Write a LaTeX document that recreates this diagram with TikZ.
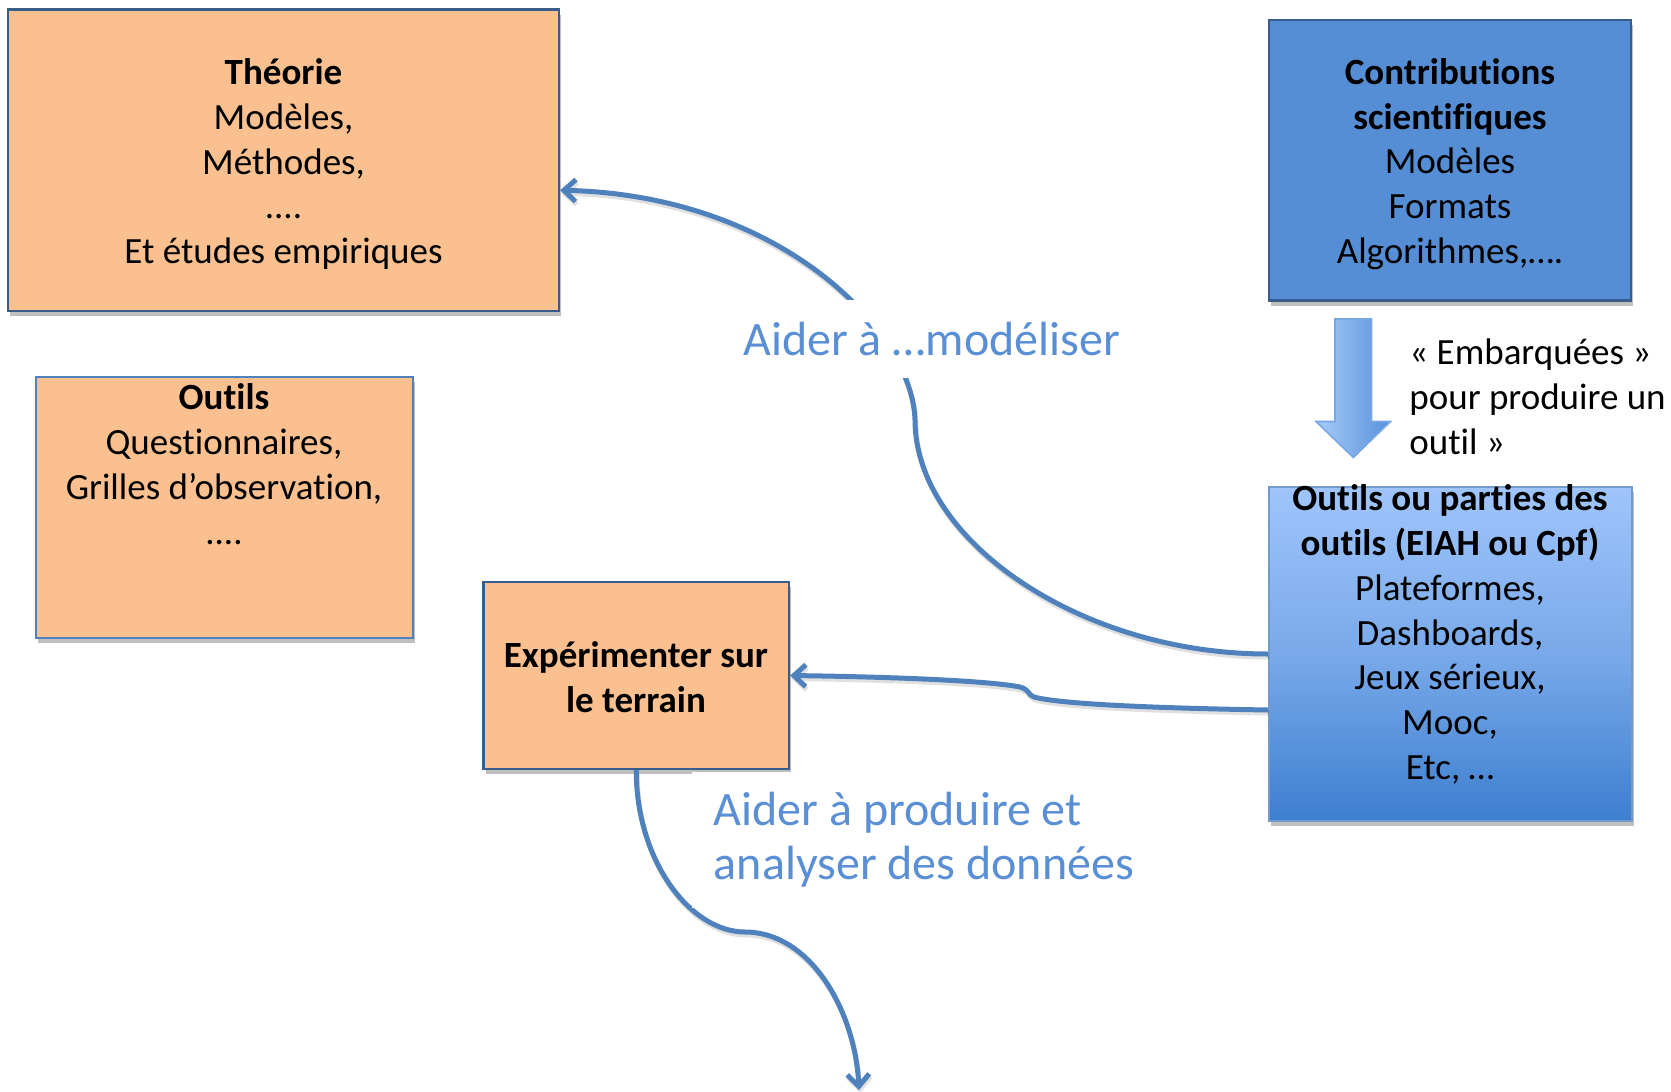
\documentclass[tikz,border=0pt]{standalone}
\usepackage{fontspec}
\setmainfont[Ligatures=NoCommon]{Carlito}
\usetikzlibrary{arrows.meta,fit,shadows,calc}
\definecolor{orfill}{HTML}{FAC090}
\definecolor{bordark}{HTML}{385D8A}
\definecolor{borlight}{HTML}{4F81BD}
\definecolor{contrib}{HTML}{558ED5}
\definecolor{conn}{HTML}{4F81BD}
\definecolor{lblc}{HTML}{5A8FD6}
\definecolor{gradtop}{HTML}{9FC5FB}
\definecolor{gradmid}{HTML}{79A9EA}
\definecolor{gradbot}{HTML}{3D7FCF}
\definecolor{arrlight}{HTML}{A7CBF8}
\definecolor{arrdark}{HTML}{5791DC}
\tikzset{
  box/.style={inner sep=0pt, line width=1.1pt,
    drop shadow={shadow xshift=1pt, shadow yshift=-2.5pt, opacity=0.25, fill=black}},
  txt/.style={align=center, inner sep=0pt, font=\fontsize{18.5pt}{22.4pt}\selectfont},
  lbl/.style={inner sep=0pt, text=lblc, font=\fontsize{24pt}{27pt}\selectfont},
  conline/.style={draw=conn, line width=2.5pt,
    preaction={draw=black, opacity=0.12, line width=2.5pt, transform canvas={xshift=0.5pt,yshift=-1.5pt}}},
  arr/.style={-{Straight Barb[length=6pt,width=11pt]}}
}
\begin{document}
\begin{tikzpicture}[x=0.5pt,y=-0.5pt]
\useasboundingbox (0,0) rectangle (1671,1092);

% boxes
\node[box, fill=orfill, draw=bordark, fit={(8,9.5)(559,311)}] (theorie) {};
\node[txt] (theorieT) at (283.5,164) {\textbf{Théorie}\\Modèles,\\Méthodes,\\....\\Et études empiriques};

\node[box, fill=orfill, draw=borlight, fit={(35.7,377)(413,638)}] (outils) {};
\node[txt] (outilsT) at (224,464) {\textbf{Outils}\\Questionnaires,\\Grilles d’observation,\\....};

\node[box, fill=contrib, draw=bordark, fit={(1269,20)(1631,300.5)}] (contrib) {};
\node[txt] (contribT) at (1450,164) {\textbf{Contributions}\\\textbf{scientifiques}\\Modèles\\Formats\\Algorithmes,….};

\node[box, top color=gradtop, bottom color=gradbot, middle color=gradmid, draw=borlight!80, fit={(1269,487)(1632,821)}] (outils2) {};
\node[txt] (outils2T) at (1450,634.5) {\textbf{Outils ou parties des}\\\textbf{outils (EIAH ou Cpf)}\\Plateformes,\\Dashboards,\\Jeux sérieux,\\Mooc,\\Etc, …};

\node[box, fill=orfill, draw=bordark, fit={(483.5,582)(789,769)}] (experim) {};
\node[txt] (experimT) at (636,677) {\textbf{Expérimenter sur}\\\textbf{le terrain}};

% block arrow
\filldraw[left color=arrlight, right color=arrdark, draw=arrdark!80, line width=0.8pt]
  (1335,319) -- (1371.5,319) -- (1371.5,421.5) -- (1390.5,421.5) -- (1353.3,457.5)
  -- (1316,421.5) -- (1335,421.5) -- cycle;
\node[txt, align=left, anchor=west] (embarq) at (1409,397) {« Embarquées »\\pour produire un\\outil »};

% connectors
\coordinate (bendA) at (915,420);
\draw[conline, arr] (outils2.west) .. controls (1080,654) and (915,540) .. (bendA)
  .. controls (912,330) and (780,195) .. ([yshift=-15pt]theorie.east);
\coordinate (kinkA) at (1034,697);
\coordinate (kinkB) at (1020,687);
\draw[conline, arr] ([yshift=-28pt]outils2.west) .. controls (1150,708) and (1060,704) .. (kinkA)
  .. controls (1028,695) and (1030,690) .. (kinkB)
  .. controls (990,681) and (900,677) .. (experim.east);
\coordinate (bendB) at (745,932);
\coordinate (endpt) at (859,1090);
\draw[conline, arr] (experim.south) .. controls (636,860) and (690,932) .. (bendB)
  .. controls (810,932) and (855,1010) .. (endpt);

% labels with white backgrounds
\fill[white] (722,300) rectangle (1135,378);
\node[lbl, anchor=base west] (lblA) at (743,355) {Aider à …modéliser};
\fill[white] (692,772) rectangle (1150,908);
\node[lbl, align=left, anchor=north west] (lblB) at (713.5,792) {Aider à produire et\\analyser des données};
\end{tikzpicture}
\end{document}
